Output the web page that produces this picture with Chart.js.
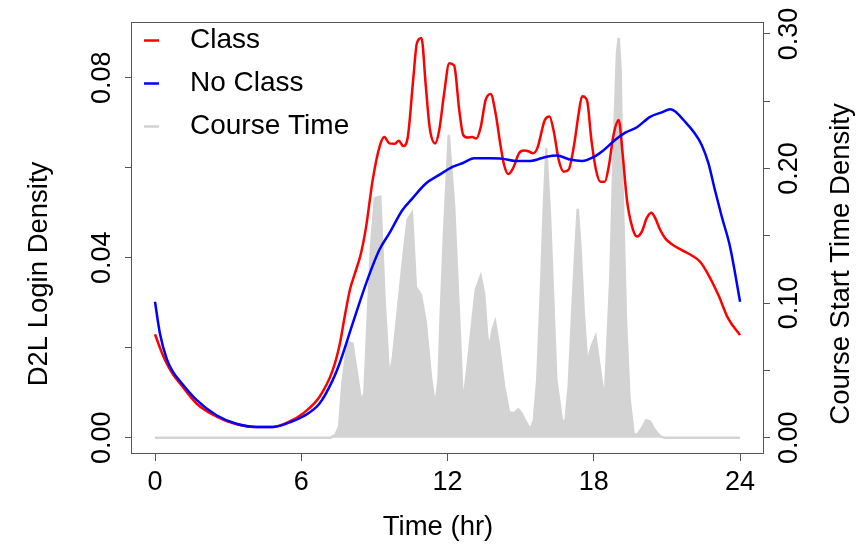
<!DOCTYPE html>
<html>
<head>
<meta charset="utf-8">
<title>D2L login density</title>
<script src="https://cdn.jsdelivr.net/npm/chart.js@4.4.1/dist/chart.umd.min.js"></script>
<style>
  html, body { margin: 0; padding: 0; background: #fff; }
  #chart { display: block; }
</style>
</head>
<body>
<canvas id="chart" width="856" height="545"></canvas>
<script>
// D2L login density by hour of day (left axis) and course start-time density (right axis)

var classHours = [0, 0.2, 0.48, 0.75, 1.02, 1.7, 2.52, 3.34, 4.16, 4.84, 5.52, 6.07, 6.75, 7.29, 7.57, 7.8, 8.0, 8.2, 8.45,
    8.66, 8.93, 9.23, 9.41, 9.61, 9.82, 10.0, 10.18, 10.36, 10.59, 10.74, 10.93, 11.11, 11.27, 11.49, 11.66, 11.86,
    12.07, 12.27, 12.48, 12.64, 12.82, 13.02, 13.18, 13.36, 13.56, 13.77, 13.97, 14.18, 14.32, 14.49, 14.68, 14.93,
    15.13, 15.34, 15.5, 15.68, 15.99, 16.18, 16.36, 16.56, 16.77, 16.97, 17.18, 17.38, 17.52, 17.72, 17.9, 18.09,
    18.27, 18.45, 18.61, 18.81, 19.02, 19.18, 19.36, 19.59, 19.77, 19.97, 20.17, 20.36, 20.52, 20.72, 20.93, 21.2,
    21.61, 22.02, 22.36, 22.7, 23.11, 23.51, 24];
var classDensity = [0.0230, 0.0200, 0.0165, 0.0140, 0.0121, 0.0076, 0.0047, 0.0030, 0.0024, 0.0024, 0.0036, 0.0054,
    0.0091, 0.0150, 0.0206, 0.0275, 0.0330, 0.0365, 0.0410, 0.0469, 0.0573, 0.0650, 0.0668, 0.0654, 0.0653, 0.0660,
    0.0648, 0.0665, 0.0795, 0.0876, 0.0888, 0.0780, 0.0688, 0.0654, 0.0684, 0.0765, 0.0832, 0.0827, 0.0728, 0.0673,
    0.0667, 0.0668, 0.0665, 0.0690, 0.0750, 0.0764, 0.0721, 0.0647, 0.0606, 0.0586, 0.0598, 0.0632, 0.0638, 0.0636,
    0.0632, 0.0643, 0.0706, 0.0714, 0.0680, 0.0617, 0.0591, 0.0596, 0.0647, 0.0721, 0.0759, 0.0750, 0.0662, 0.0595,
    0.0569, 0.0569, 0.0602, 0.0673, 0.0706, 0.0632, 0.0528, 0.0465, 0.0447, 0.0458, 0.0488, 0.0500, 0.0488, 0.0462,
    0.0443, 0.0430, 0.0417, 0.0405, 0.0391, 0.0362, 0.0317, 0.0265, 0.0228];

var noClassHours = [0, 0.2, 0.48, 0.75, 1.02, 1.7, 2.52, 3.34, 4.16, 4.84, 5.52, 6.07, 6.75, 7.29, 7.57, 8.11, 8.66, 9.2,
    9.61, 10.15, 10.56, 11.11, 11.66, 12.2, 12.61, 13.09, 13.7, 14.25, 14.79, 15.4, 16.02, 16.5, 16.97, 17.52, 18.0,
    18.4, 18.88, 19.29, 19.77, 20.31, 20.79, 21.13, 21.34, 21.68, 22.09, 22.43, 22.7, 22.97, 23.25, 23.59, 24];
var noClassDensity = [0.0302, 0.0232, 0.0175, 0.0145, 0.0126, 0.0084, 0.0050, 0.0031, 0.0024, 0.0024, 0.0034, 0.0047,
    0.0076, 0.0128, 0.0165, 0.0254, 0.0343, 0.0417, 0.0454, 0.0506, 0.0532, 0.0565, 0.0584, 0.0602, 0.0610, 0.0621,
    0.0621, 0.0620, 0.0615, 0.0615, 0.0624, 0.0627, 0.0619, 0.0615, 0.0624, 0.0639, 0.0662, 0.0678, 0.0690, 0.0713,
    0.0723, 0.0730, 0.0725, 0.0706, 0.0680, 0.0650, 0.0610, 0.0550, 0.0491, 0.0424, 0.0302];

var courseHours = [0, 7.2, 7.4, 7.55, 7.7, 7.9, 8.1, 8.28, 8.45, 8.59, 8.73, 8.86, 9.02, 9.24, 9.41, 9.6, 9.75, 9.95,
    10.16, 10.36, 10.54, 10.7, 10.91, 11.11, 11.32, 11.49, 11.63, 11.72, 11.86, 12.05, 12.27, 12.48, 12.63, 12.82,
    13.02, 13.16, 13.36, 13.5, 13.63, 13.74, 13.84, 13.95, 14.11, 14.32, 14.52, 14.73, 14.9, 15.04, 15.2, 15.4, 15.54,
    15.68, 15.82, 15.95, 16.05, 16.2, 16.33, 16.46, 16.7, 16.84, 16.97, 17.11, 17.25, 17.34, 17.45, 17.59, 17.73,
    17.91, 18.07, 18.2, 18.37, 18.45, 18.55, 18.68, 18.81, 18.95, 19.02, 19.1, 19.18, 19.32, 19.46, 19.63, 19.77,
    19.97, 20.15, 20.31, 20.49, 20.72, 20.9, 24];
var courseDensity = [0, 0, 0.002, 0.008, 0.043, 0.071, 0.070, 0.048, 0.027, 0.033, 0.092, 0.142, 0.178, 0.179, 0.105,
    0.045, 0.058, 0.093, 0.130, 0.162, 0.167, 0.112, 0.106, 0.085, 0.045, 0.023, 0.043, 0.092, 0.154, 0.225, 0.172,
    0.087, 0.023, 0.053, 0.087, 0.110, 0.120, 0.107, 0.075, 0.067, 0.080, 0.086, 0.068, 0.038, 0.019, 0.018, 0.021,
    0.018, 0.012, 0.006, 0.013, 0.043, 0.105, 0.172, 0.215, 0.166, 0.105, 0.043, 0.012, 0.013, 0.038, 0.092, 0.142,
    0.170, 0.142, 0.092, 0.055, 0.068, 0.075, 0.058, 0.036, 0.028, 0.068, 0.120, 0.211, 0.286, 0.297, 0.273, 0.186,
    0.087, 0.030, 0.003, 0.002, 0.007, 0.013, 0.012, 0.006, 0.001, 0, 0];

var xTicks = [0, 6, 12, 18, 24];
var leftTicks = [0, 0.02, 0.04, 0.06, 0.08];
var leftLabelled = [0, 0.04, 0.08];
var rightTicks = [0, 0.05, 0.10, 0.15, 0.20, 0.25, 0.30];
var rightLabelled = [0, 0.10, 0.20, 0.30];

var FONT = '"Liberation Sans", Arial, Helvetica, sans-serif';
var AXIS_COLOR = '#555';

function zip(xs, ys) {
    var out = [];
    for (var i = 0; i < xs.length && i < ys.length; i++) out.push({ x: xs[i], y: ys[i] });
    return out;
}

function fixedTicks(values) {
    return function (scale) {
        scale.ticks = values.map(function (v) { return { value: v }; });
    };
}

function labelIf(list) {
    return function (value) {
        for (var i = 0; i < list.length; i++) {
            if (Math.abs(list[i] - value) < 1e-9) return value.toFixed(2);
        }
        return '';
    };
}

// box, axis titles and legend (R style: rotated titles, legend inside the plot)
var decor = {
    id: 'decor',
    afterDraw: function (chart) {
        var ctx = chart.ctx, a = chart.chartArea;
        ctx.save();
        ctx.strokeStyle = AXIS_COLOR;
        ctx.lineWidth = 1;
        ctx.strokeRect(a.left - 0.5, a.top - 0.5, a.right - a.left + 1, a.bottom - a.top + 1);

        ctx.fillStyle = '#000';
        ctx.font = '27.5px ' + FONT;
        ctx.textAlign = 'center';
        ctx.textBaseline = 'alphabetic';
        ctx.fillText('Time (hr)', 438, 535);

        ctx.save();
        ctx.translate(47, 274);
        ctx.rotate(-Math.PI / 2);
        ctx.fillText('D2L Login Density', 0, 0);
        ctx.restore();

        ctx.save();
        ctx.translate(849, 264);
        ctx.rotate(-Math.PI / 2);
        ctx.fillText('Course Start Time Density', 0, 0);
        ctx.restore();

        ctx.font = '28px ' + FONT;
        ctx.textAlign = 'left';
        chart.data.datasets.forEach(function (ds, i) {
            var y = a.top + 17.5 + i * 43;
            ctx.strokeStyle = ds.borderColor;
            ctx.lineWidth = 2.5;
            ctx.beginPath();
            ctx.moveTo(a.left + 12, y);
            ctx.lineTo(a.left + 27, y);
            ctx.stroke();
            ctx.fillText(ds.label, a.left + 58, y + 7.5);
        });
        ctx.restore();
    }
};

new Chart(document.getElementById('chart'), {
    type: 'line',
    data: {
        datasets: [
            {
                label: 'Class',
                data: zip(classHours, classDensity),
                yAxisID: 'y',
                borderColor: '#ff0000',
                borderWidth: 2.5,
                cubicInterpolationMode: 'monotone',
                fill: false,
                order: 1
            },
            {
                label: 'No Class',
                data: zip(noClassHours, noClassDensity),
                yAxisID: 'y',
                borderColor: '#0000ff',
                borderWidth: 2.5,
                cubicInterpolationMode: 'monotone',
                fill: false,
                order: 0
            },
            {
                label: 'Course Time',
                data: zip(courseHours, courseDensity),
                yAxisID: 'y2',
                borderColor: '#d3d3d3',
                backgroundColor: '#d3d3d3',
                borderWidth: 2.5,
                tension: 0,
                fill: 'origin',
                order: 2
            }
        ]
    },
    options: {
        responsive: false,
        animation: false,
        devicePixelRatio: 1,
        layout: { padding: { top: 23, left: 0, right: 0, bottom: 0 } },
        elements: { point: { radius: 0, hoverRadius: 0 } },
        plugins: { legend: { display: false }, tooltip: { enabled: false } },
        scales: {
            x: {
                type: 'linear',
                position: 'bottom',
                min: -0.944,
                max: 24.94,
                afterBuildTicks: fixedTicks(xTicks),
                afterFit: function (s) { s.height = 92; },
                border: { display: false },
                grid: { drawOnChartArea: false, drawTicks: true, tickLength: 8, color: AXIS_COLOR },
                ticks: {
                    autoSkip: false,
                    maxRotation: 0,
                    padding: 5,
                    color: '#000',
                    font: { family: FONT, size: 27 },
                    callback: function (v) { return String(v); }
                }
            },
            y: {
                type: 'linear',
                position: 'left',
                min: -0.0034,
                max: 0.09216,
                afterBuildTicks: fixedTicks(leftTicks),
                afterFit: function (s) { s.width = 132; },
                border: { display: false },
                grid: { drawOnChartArea: false, drawTicks: true, tickLength: 7, color: AXIS_COLOR },
                ticks: {
                    autoSkip: false,
                    minRotation: 90,
                    maxRotation: 90,
                    crossAlign: 'center',
                    padding: -4,
                    color: '#000',
                    font: { family: FONT, size: 27 },
                    callback: labelIf(leftLabelled)
                }
            },
            y2: {
                type: 'linear',
                position: 'right',
                min: -0.0114,
                max: 0.3081,
                afterBuildTicks: fixedTicks(rightTicks),
                afterFit: function (s) { s.width = 93; },
                border: { display: false },
                grid: { drawOnChartArea: false, drawTicks: true, tickLength: 7, color: AXIS_COLOR },
                ticks: {
                    autoSkip: false,
                    minRotation: 90,
                    maxRotation: 90,
                    crossAlign: 'center',
                    padding: -7,
                    color: '#000',
                    font: { family: FONT, size: 27 },
                    callback: labelIf(rightLabelled)
                }
            }
        }
    },
    plugins: [decor]
});
</script>
</body>
</html>
